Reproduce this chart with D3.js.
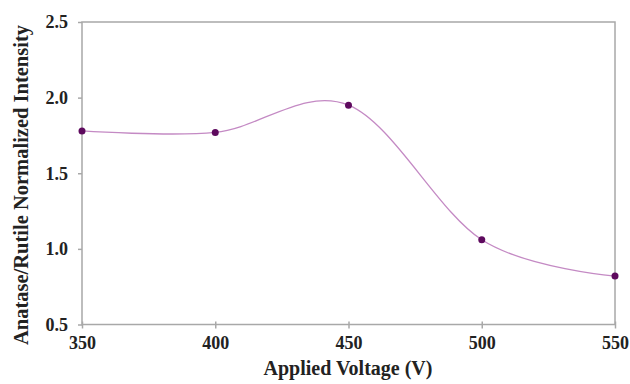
<!DOCTYPE html>
<html>
<head>
<meta charset="utf-8">
<script src="https://cdn.jsdelivr.net/npm/d3@7"></script>
<style>
  body { margin: 0; background: #fff; }
  text { font-family: "Liberation Serif", "Times New Roman", serif; font-weight: bold; fill: #222; }
</style>
</head>
<body>
<div id="chart"></div>
<script>
const voltages = [350, 400, 450, 500, 550];
const intensity = [1.78, 1.77, 1.95, 1.06, 0.82];
const xTicks = [350, 400, 450, 500, 550];
const yTicks = [0.5, 1.0, 1.5, 2.0, 2.5];

const width = 630, height = 384;
const margin = {top: 22, right: 15, bottom: 60, left: 82};

const svg = d3.select("#chart").append("svg")
  .attr("width", width)
  .attr("height", height);

const x = d3.scaleLinear().domain([350, 550]).range([margin.left, width - margin.right]);
const y = d3.scaleLinear().domain([0.5, 2.5]).range([height - margin.bottom + 0.5, margin.top]);

// plot box
svg.append("rect")
  .attr("x", x(350)).attr("y", y(2.5))
  .attr("width", x(550) - x(350)).attr("height", y(0.5) - y(2.5))
  .attr("fill", "none").attr("stroke", "#a8a8a8").attr("stroke-width", 1.5);

// x axis
const xAxis = svg.append("g")
  .attr("transform", "translate(0," + y(0.5) + ")")
  .call(d3.axisBottom(x).tickValues(xTicks).tickFormat(d3.format("d")).tickSize(4).tickPadding(8));
xAxis.select(".domain").remove();
xAxis.selectAll("line").attr("stroke", "#a8a8a8").attr("stroke-width", 1.5).attr("y1", -3);
xAxis.selectAll("text").style("font-size", "18px").attr("fill", "#222");

// y axis
const yAxis = svg.append("g")
  .attr("transform", "translate(" + x(350) + ",0)")
  .call(d3.axisLeft(y).tickValues(yTicks).tickFormat(d3.format(".1f")).tickSize(4).tickPadding(10));
yAxis.select(".domain").remove();
yAxis.selectAll("line").attr("stroke", "#a8a8a8").attr("stroke-width", 1.5);
yAxis.selectAll("text").style("font-size", "18px").attr("fill", "#222");

const pts = voltages.map((v, i) => [v, intensity[i]]);

// smoothed line
const line = d3.line()
  .x(d => x(d[0]))
  .y(d => y(d[1]))
  .curve(d3.curveCardinal.tension(0));

svg.append("path")
  .datum(pts)
  .attr("d", line)
  .attr("fill", "none")
  .attr("stroke", "#c48ac4")
  .attr("stroke-width", 1.3);

// markers
svg.selectAll("circle.pt")
  .data(pts)
  .join("circle")
  .attr("class", "pt")
  .attr("cx", d => x(d[0]))
  .attr("cy", d => y(d[1]))
  .attr("r", 3.5)
  .attr("fill", "#5e0a5e");

// axis titles
svg.append("text")
  .attr("x", 348)
  .attr("y", 375)
  .attr("text-anchor", "middle")
  .style("font-size", "20px")
  .text("Applied Voltage (V)");

svg.append("text")
  .attr("transform", "translate(28," + 185 + ") rotate(-90)")
  .attr("text-anchor", "middle")
  .style("font-size", "20.5px")
  .text("Anatase/Rutile Normalized Intensity");
</script>
</body>
</html>
